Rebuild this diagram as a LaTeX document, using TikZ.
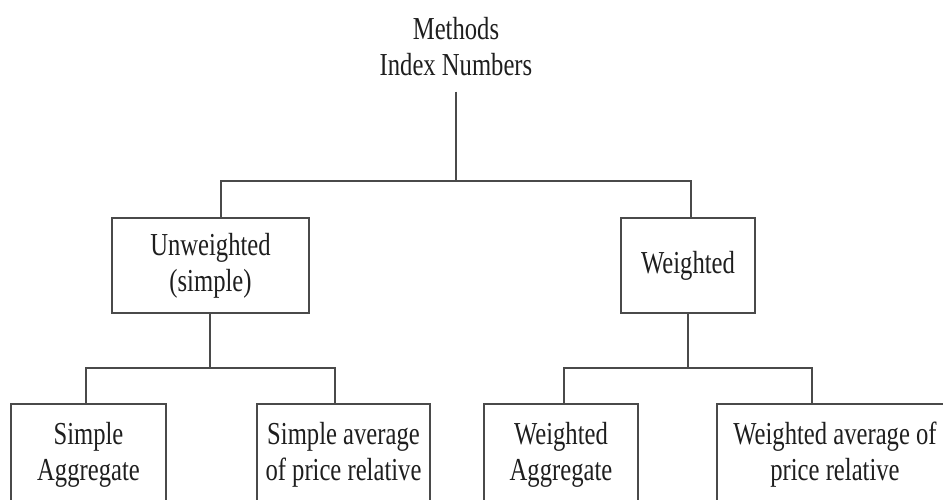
\documentclass[tikz,border=0pt]{standalone}
\usepackage{fontspec}
\setmainfont{Liberation Serif}[FakeStretch=0.77]
\usetikzlibrary{calc}
\definecolor{ink}{HTML}{1E1E1E}
\definecolor{rule}{HTML}{4A4A4A}
\begin{document}
\begin{tikzpicture}[x=1pt,y=-1pt,
  every node/.style={text=ink,font=\fontsize{32}{36}\selectfont,align=center,inner sep=0pt},
  box/.style={draw=rule,line width=1.8pt},
  link/.style={draw=rule,line width=1.8pt}]
  \useasboundingbox (0,0) rectangle (943,499);
  \clip (0,0) rectangle (943,499);
  % title
  \node[minimum height=90pt] (title) at (456,46.5) {Methods\\Index Numbers};
  % second level
  \node[box,minimum width=197pt,minimum height=95pt] (unw) at (210.5,265.5) {Unweighted\\(simple)};
  \node[box,minimum width=134pt,minimum height=95pt] (wei) at (688,265.5) {Weighted};
  % third level (boxes run past the lower and right edges)
  \node[box,minimum width=155pt,minimum height=102pt] (sagg) at (88.5,455) {Simple\\Aggregate};
  \node[box,minimum width=173pt,minimum height=102pt] (savg) at (343.5,455) {Simple average\\of price relative};
  \node[box,minimum width=154pt,minimum height=102pt] (wagg) at (561,455) {Weighted\\Aggregate};
  \node[box,minimum width=236pt,minimum height=102pt] (wavg) at (835,455) {Weighted average of\\price relative};
  % junctions
  \coordinate (j0) at (456,181);
  \coordinate (j1) at (210,368);
  \coordinate (j2) at (688,368);
  % connectors
  \draw[link] (title.south) -- (j0);
  \draw[link] ($(unw.north)+(10.5,0)$) |- (j0) -| ($(wei.north)+(3,0)$);
  \draw[link] (unw.south -| j1) -- (j1);
  \draw[link] ($(sagg.north)+(-2.5,0)$) |- (j1) -| ($(savg.north)+(-8.5,0)$);
  \draw[link] (wei.south) -- (j2);
  \draw[link] ($(wagg.north)+(3,0)$) |- (j2) -| ($(wavg.north)+(-23,0)$);
\end{tikzpicture}
\end{document}
